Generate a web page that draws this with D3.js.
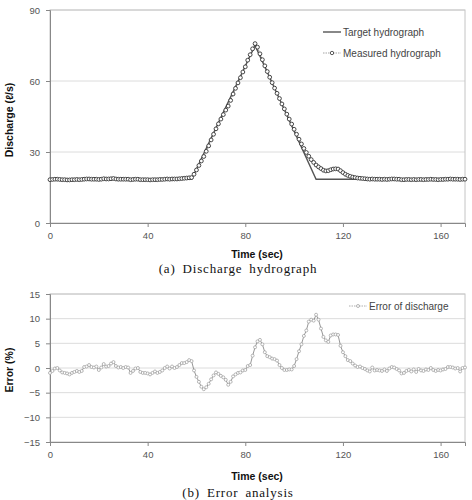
<!DOCTYPE html>
<html>
<head>
<meta charset="utf-8">
<script src="https://cdn.jsdelivr.net/npm/d3@7"></script>
<style>
  body { margin: 0; background: #fff; }
  svg { display: block; }
  .tick text { font-family: "Liberation Sans", Arial, sans-serif; font-size: 9.5px; fill: #555; }
  .axis-title { font-family: "Liberation Sans", Arial, sans-serif; font-size: 10.5px; font-weight: bold; fill: #111; }
  .legend { font-family: "Liberation Sans", Arial, sans-serif; font-size: 10px; fill: #444; }
  .caption { font-family: "Liberation Serif", "DejaVu Serif", serif; font-size: 13px; fill: #111; letter-spacing: 0.8px; word-spacing: 3px; }
</style>
</head>
<body>
<div id="chart"></div>
<script>
// sampling interval of the records (sec)
const step = 1;

// (a) target hydrograph, break points [time, discharge]
const targetTime = [0, 58, 84, 109, 170];
const targetQ = [18.5, 18.5, 75, 18.5, 18.5];

// (a) measured hydrograph, one value per second from t = 0
const measuredQ = [
  18.3, 18.4, 18.5, 18.5, 18.4, 18.3, 18.3, 18.2, 18.2, 18.3,
  18.3, 18.4, 18.3, 18.4, 18.5, 18.6, 18.6, 18.5, 18.5, 18.5,
  18.4, 18.5, 18.7, 18.6, 18.6, 18.7, 18.8, 18.6, 18.5, 18.5,
  18.5, 18.5, 18.5, 18.3, 18.4, 18.5, 18.5, 18.3, 18.3, 18.3,
  18.3, 18.2, 18.3, 18.3, 18.3, 18.4, 18.4, 18.5, 18.6, 18.5,
  18.6, 18.6, 18.6, 18.7, 18.8, 18.9, 19.0, 19.1, 19.2, 20.6,
  22.4, 24.3, 26.2, 28.1, 30.3, 32.6, 35.1, 37.5, 39.8, 41.9,
  43.9, 45.8, 47.7, 49.4, 51.8, 54.5, 56.9, 59.2, 61.4, 63.8,
  66.0, 68.8, 71.1, 73.6, 75.8, 74.3, 71.5, 69.0, 66.4, 64.0,
  61.6, 59.3, 57.0, 54.8, 52.6, 50.3, 48.2, 46.0, 43.9, 41.8,
  39.6, 37.5, 35.4, 33.4, 31.5, 29.8, 28.2, 26.8, 25.6, 24.5,
  23.7, 23.0, 22.3, 22.0, 22.1, 22.5, 22.8, 22.9, 22.8, 22.1,
  21.3, 20.6, 20.1, 19.7, 19.4, 19.2, 19.0, 18.9, 18.8, 18.7,
  18.6, 18.5, 18.6, 18.5, 18.5, 18.5, 18.4, 18.5, 18.4, 18.5,
  18.6, 18.6, 18.5, 18.5, 18.3, 18.3, 18.4, 18.4, 18.3, 18.4,
  18.3, 18.4, 18.4, 18.3, 18.4, 18.4, 18.5, 18.4, 18.4, 18.3,
  18.4, 18.4, 18.5, 18.5, 18.6, 18.5, 18.5, 18.5, 18.4, 18.5,
  18.5
];

// (b) error of discharge (%), one value per second from t = 0
const errorPct = [
  -1.0, -0.6, -0.1, 0.0, -0.5, -0.9, -1.0, -1.1, -1.3, -1.0,
  -0.8, -0.6, -0.8, -0.6, 0.2, 0.3, 0.6, 0.2, 0.1, 0.3,
  -0.4, 0.1, 0.8, 0.3, 0.4, 0.9, 1.2, 0.4, 0.1, 0.2,
  0.0, 0.2, 0.1, -1.0, -0.6, -0.1, 0.0, -0.8, -1.0, -1.0,
  -1.1, -1.3, -1.0, -0.7, -1.0, -0.8, -0.5, 0.0, 0.3, -0.1,
  0.3, 0.0, 0.2, 0.6, 1.0, 1.0, 1.2, 1.6, 1.4, -0.5,
  -1.8, -2.8, -3.8, -4.3, -3.9, -3.2, -2.3, -1.5, -0.9, -1.2,
  -1.6, -1.9, -2.4, -3.4, -2.8, -1.7, -1.3, -1.0, -0.9, -0.5,
  -0.4, 0.4, 0.6, 2.5, 4.2, 5.4, 5.7, 4.8, 3.2, 2.4,
  2.2, 1.9, 1.8, 1.5, 0.6, 0.0, -0.4, -0.4, -0.3, -0.3,
  0.4, 1.8, 3.4, 4.8, 6.5, 7.6, 9.4, 9.8, 9.6, 10.8,
  9.8, 8.0, 6.3, 5.6, 5.3, 6.6, 6.8, 6.8, 6.7, 4.5,
  3.2, 2.4, 1.6, 1.4, 0.9, 0.5, 0.2, 0.3, 0.0, -0.2,
  -0.5, -0.7, 0.1, -0.5, -0.4, -0.5, -0.6, -0.3, -0.6, -0.1,
  0.2, 0.1, -0.2, -0.5, -1.1, -1.0, -0.6, -0.4, -0.7, -0.3,
  -0.8, -0.2, -0.5, -0.6, -0.3, -0.4, 0.0, -0.4, -0.6, -0.4,
  -0.5, -0.3, -0.2, 0.2, 0.2, 0.1, -0.1, 0.0, -0.7, 0.0,
  0.1
];

const timeTicks = [0, 40, 80, 120, 160];
const qTicks = [0, 30, 60, 90];
const errTicks = [-15, -10, -5, 0, 5, 10, 15];

const W = 472, H = 500;
const svg = d3.select('#chart').append('svg').attr('width', W).attr('height', H);

const x = d3.scaleLinear().domain([0, 170]).range([50, 465]);

function panel(yDomain, yTicks, top, bottom) {
  const y = d3.scaleLinear().domain(yDomain).range([bottom, top]);
  const g = svg.append('g');

  // horizontal grid
  g.selectAll('line.grid')
    .data(yTicks.filter(d => d !== yDomain[0]))
    .enter().append('line')
    .attr('x1', x.range()[0]).attr('x2', x.range()[1])
    .attr('y1', d => y(d)).attr('y2', d => y(d))
    .attr('stroke', '#dcdcdc').attr('stroke-width', 1);

  // frame on top / right
  g.append('rect')
    .attr('x', x.range()[0]).attr('y', top)
    .attr('width', x.range()[1] - x.range()[0]).attr('height', bottom - top)
    .attr('fill', 'none').attr('stroke', '#c4c4c4');

  const ax = g.append('g').attr('transform', `translate(0,${bottom})`)
    .call(d3.axisBottom(x).tickValues(timeTicks).tickSize(4).tickPadding(5));
  const ay = g.append('g').attr('transform', `translate(${x.range()[0]},0)`)
    .call(d3.axisLeft(y).tickValues(yTicks).tickSize(4).tickPadding(6));
  [ax, ay].forEach(a => {
    a.select('.domain').attr('stroke', '#888');
    a.selectAll('.tick line').attr('stroke', '#888');
  });
  return { g, y };
}

// ---------- (a) Discharge hydrograph ----------
const pa = panel([0, 90], qTicks, 10, 223);
const lineA = d3.line().x(d => x(d[0])).y(d => pa.y(d[1]));

const measured = measuredQ.map((v, i) => [i * step, v]);
pa.g.append('path')
  .attr('d', lineA(measured))
  .attr('fill', 'none').attr('stroke', '#555').attr('stroke-width', 0.7)
  .attr('stroke-dasharray', '1.5,1');

pa.g.append('path')
  .attr('d', lineA(targetTime.map((t, i) => [t, targetQ[i]])))
  .attr('fill', 'none').attr('stroke', '#555').attr('stroke-width', 1.4);

pa.g.selectAll('circle.m')
  .data(measured).enter().append('circle')
  .attr('cx', d => x(d[0])).attr('cy', d => pa.y(d[1])).attr('r', 1.9)
  .attr('fill', '#fff').attr('stroke', '#333').attr('stroke-width', 0.9);

// legend (a)
const la = svg.append('g');
la.append('line').attr('x1', 323).attr('x2', 341).attr('y1', 32).attr('y2', 32)
  .attr('stroke', '#555').attr('stroke-width', 1.4);
la.append('text').attr('class', 'legend').attr('x', 343).attr('y', 35.5).text('Target hydrograph');
la.append('line').attr('x1', 323).attr('x2', 341).attr('y1', 53).attr('y2', 53)
  .attr('stroke', '#666').attr('stroke-width', 0.6).attr('stroke-dasharray', '1.5,1');
la.append('circle').attr('cx', 332).attr('cy', 53).attr('r', 1.7)
  .attr('fill', '#fff').attr('stroke', '#333').attr('stroke-width', 0.8);
la.append('text').attr('class', 'legend').attr('x', 343).attr('y', 56.5).text('Measured hydrograph');

svg.append('text').attr('class', 'axis-title').attr('text-anchor', 'middle')
  .attr('x', 257).attr('y', 258).text('Time (sec)');
svg.append('text').attr('class', 'axis-title').attr('text-anchor', 'middle')
  .attr('transform', 'translate(13,120) rotate(-90)').text('Discharge (ℓ/s)');
svg.append('text').attr('class', 'caption').attr('text-anchor', 'middle')
  .attr('x', 238).attr('y', 273).text('(a) Discharge hydrograph');

// ---------- (b) Error analysis ----------
const pb = panel([-15, 15], errTicks, 294, 442);
const errors = errorPct.map((v, i) => [i * step, v]);
pb.g.append('path')
  .attr('d', d3.line().x(d => x(d[0])).y(d => pb.y(d[1]))(errors))
  .attr('fill', 'none').attr('stroke', '#8a8a8a').attr('stroke-width', 0.9);
pb.g.selectAll('circle.e')
  .data(errors).enter().append('circle')
  .attr('cx', d => x(d[0])).attr('cy', d => pb.y(d[1])).attr('r', 1.5)
  .attr('fill', '#fff').attr('stroke', '#999').attr('stroke-width', 0.7);

const lb = svg.append('g');
lb.append('line').attr('x1', 349).attr('x2', 367).attr('y1', 306).attr('y2', 306)
  .attr('stroke', '#999').attr('stroke-width', 0.8).attr('stroke-dasharray', '1.5,1');
lb.append('circle').attr('cx', 358).attr('cy', 306).attr('r', 1.5)
  .attr('fill', '#fff').attr('stroke', '#999').attr('stroke-width', 0.7);
lb.append('text').attr('class', 'legend').attr('x', 369).attr('y', 309.5).text('Error of discharge');

svg.append('text').attr('class', 'axis-title').attr('text-anchor', 'middle')
  .attr('x', 257).attr('y', 480).text('Time (sec)');
svg.append('text').attr('class', 'axis-title').attr('text-anchor', 'middle')
  .attr('transform', 'translate(13,370) rotate(-90)').text('Error (%)');
svg.append('text').attr('class', 'caption').attr('text-anchor', 'middle')
  .attr('x', 238).attr('y', 497).text('(b) Error analysis');
</script>
</body>
</html>
